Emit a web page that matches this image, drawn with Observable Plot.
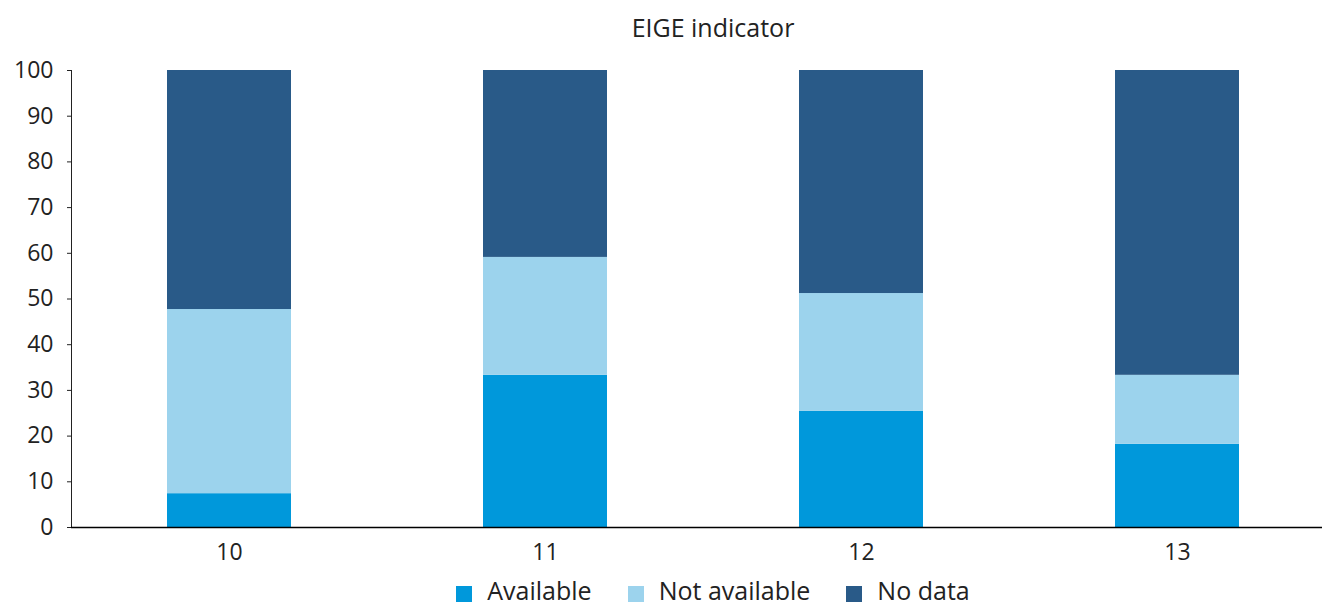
<!DOCTYPE html>
<html>
<head>
<meta charset="utf-8">
<script src="https://cdn.jsdelivr.net/npm/d3@7"></script>
<script src="https://cdn.jsdelivr.net/npm/@observablehq/plot@0.6"></script>
<style>
  html, body { margin: 0; padding: 0; background: #fff; overflow: hidden; }
  body { width: 1322px; height: 608px; font-family: "Open Sans", sans-serif; color: #222; }
  #title { height: 50px; margin-left: 104px; text-align: center; font-size: 25px; line-height: 54px; color: #222; }
  #legend { margin-left: 104px; display: flex; justify-content: center; align-items: center; font-size: 25px; height: 28px; line-height: 28px; padding-top: 1px; }
  #legend .item { display: inline-flex; align-items: center; margin: 0 18px; }
  #legend .sw { width: 16px; height: 16px; margin-right: 15px; margin-top: 8px; display: inline-block; }
</style>
</head>
<body>
<div id="title">EIGE indicator</div>
<div id="chart"></div>
<div id="legend"></div>
<script>
const indicators = ["10", "11", "12", "13"];
const statuses = ["Available", "Not available", "No data"];
const available    = [7.4, 33.3, 25.4, 18.2];
const notAvailable = [40.3, 25.8, 25.8, 15.1];
const noData       = [52.3, 40.9, 48.8, 66.7];
const colors = ["#0098db", "#9cd3ed", "#295a88"];
const yTicks = [0, 10, 20, 30, 40, 50, 60, 70, 80, 90, 100];

const series = [available, notAvailable, noData];
const data = [];
statuses.forEach((s, si) => indicators.forEach((ind, i) => data.push({indicator: ind, status: s, value: series[si][i]})));

const chart = Plot.plot({
  width: 1322,
  height: 525,
  marginLeft: 71,
  marginRight: -13,
  marginTop: 20,
  marginBottom: 48,
  style: {fontFamily: "Open Sans, sans-serif", fontSize: "23px", color: "#222", background: "#fff", overflow: "hidden"},
  x: {domain: indicators, paddingInner: 0.608, paddingOuter: 0.304, label: null, tickSize: 0, tickPadding: 16},
  y: {domain: [0, 100], ticks: yTicks, label: null, tickSize: 4, tickPadding: 14, line: true},
  color: {domain: statuses, range: colors},
  marks: [
    Plot.barY(data, {x: "indicator", y: "value", fill: "status", order: statuses}),
    Plot.ruleY([0], {stroke: "#000", strokeWidth: 1.5})
  ]
});
document.getElementById("chart").appendChild(chart);

const legend = document.getElementById("legend");
statuses.forEach((s, i) => {
  const item = document.createElement("span");
  item.className = "item";
  const sw = document.createElement("span");
  sw.className = "sw";
  sw.style.background = colors[i];
  item.appendChild(sw);
  item.appendChild(document.createTextNode(s));
  legend.appendChild(item);
});
</script>
</body>
</html>
